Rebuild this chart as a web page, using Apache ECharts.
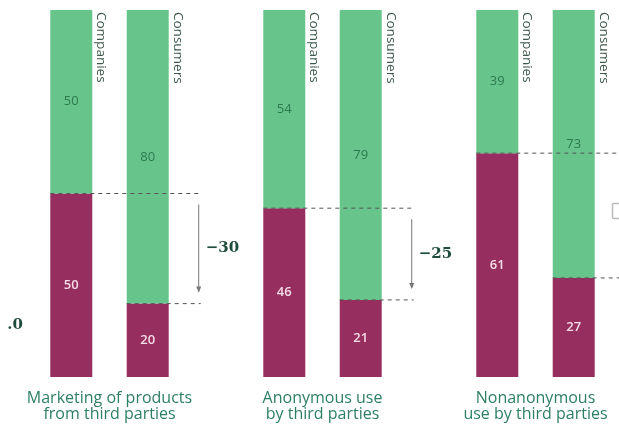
<!DOCTYPE html>
<html>
<head>
<meta charset="utf-8">
<script src="https://cdn.jsdelivr.net/npm/echarts@6/dist/echarts.min.js"></script>
<style>
  html, body { margin: 0; padding: 0; background: #ffffff; overflow: hidden; }
  #chart { width: 642px; height: 425px; }
</style>
</head>
<body>
<div id="chart"></div>
<script>
// Share of respondents (%) per use case; each bar sums to 100.
const categories = [
  'Marketing of products\nfrom third parties',
  'Anonymous use\nby third parties',
  'Nonanonymous\nuse by third parties'
];
const groupNames = ['Companies', 'Consumers'];
const companiesNo  = [50, 46, 61];   // lower (maroon) segment
const companiesYes = [50, 54, 39];   // upper (green) segment
const consumersNo  = [20, 21, 27];
const consumersYes = [80, 79, 73];

const GREEN = '#67c58b';
const MAROON = '#962e5f';
const BAR_W = 42;
const FONT = '"Open Sans", "Noto Sans", sans-serif';

const chart = echarts.init(document.getElementById('chart'), null, { renderer: 'canvas' });

function barSeries(name, stack, data, color, labelColor, weight) {
  return {
    name: name,
    type: 'bar',
    stack: stack,
    data: data,
    barWidth: BAR_W,
    barGap: '82%',
    itemStyle: { color: color },
    emphasis: { disabled: true },
    label: {
      show: true,
      position: 'inside',
      color: labelColor,
      fontFamily: FONT,
      fontSize: 13,
      fontWeight: weight
    }
  };
}

chart.setOption({
  animation: false,
  grid: { left: 3, right: 0, top: 10, bottom: 48 },
  xAxis: {
    type: 'category',
    data: categories,
    axisLine: { show: false },
    axisTick: { show: false },
    axisLabel: {
      interval: 0,
      hideOverlap: false,
      margin: 13,
      color: '#2d7f63',
      fontFamily: FONT,
      fontSize: 16,
      fontWeight: 500,
      lineHeight: 16.5
    }
  },
  yAxis: { type: 'value', min: 0, max: 100, show: false },
  series: [
    barSeries(groupNames[0], 'companies', companiesNo, MAROON, '#f6dce8', 600),
    barSeries(groupNames[0], 'companies', companiesYes, GREEN, '#2b7a4e', 400),
    barSeries(groupNames[1], 'consumers', consumersNo, MAROON, '#f6dce8', 600),
    barSeries(groupNames[1], 'consumers', consumersYes, GREEN, '#2b7a4e', 400)
  ]
});

// Annotations placed from the laid-out bars
function barRect(seriesIndex, i) {
  const lay = chart.getModel().getSeriesByIndex(seriesIndex).getData().getItemLayout(i);
  const y0 = Math.min(lay.y, lay.y + lay.height);
  const y1 = Math.max(lay.y, lay.y + lay.height);
  return { left: lay.x, right: lay.x + lay.width, top: y0, bottom: y1 };
}

const gridTop = chart.convertToPixel({ gridIndex: 0 }, [0, 100])[1];
const els = [];
const dash = { stroke: '#555', lineWidth: 1, lineDash: [4, 4] };

categories.forEach(function (c, i) {
  const co = barRect(0, i);   // companies lower segment
  const cn = barRect(2, i);   // consumers lower segment

  // vertical group names next to each bar
  [[co, groupNames[0]], [cn, groupNames[1]]].forEach(function (p) {
    els.push({
      type: 'text',
      x: p[0].right + 2,
      y: gridTop + 2,
      rotation: -Math.PI / 2,
      silent: true,
      style: {
        text: p[1],
        fill: '#3f5a4d',
        font: '13.5px ' + FONT,
        align: 'left',
        verticalAlign: 'bottom'
      }
    });
  });

  const xEnd = cn.right + 32;
  els.push({ type: 'line', silent: true, z: 10,
    shape: { x1: co.left, y1: co.top, x2: xEnd, y2: co.top }, style: dash });
  els.push({ type: 'line', silent: true, z: 10,
    shape: { x1: cn.left, y1: cn.top, x2: xEnd, y2: cn.top }, style: dash });

  // arrow showing the drop between the two shares
  const ax = cn.right + 30;
  const yA = co.top + 11;
  const yB = cn.top - 12;
  els.push({ type: 'line', silent: true,
    shape: { x1: ax, y1: yA, x2: ax, y2: yB },
    style: { stroke: '#777', lineWidth: 1 } });
  els.push({ type: 'polygon', silent: true,
    shape: { points: [[ax - 2.5, yB - 5], [ax + 2.5, yB - 5], [ax, yB + 1]] },
    style: { fill: '#777' } });

  const delta = consumersNo[i] - companiesNo[i];
  els.push({
    type: 'text',
    x: cn.right + 37,
    y: (co.top + cn.top) / 2,
    silent: true,
    style: {
      text: (delta < 0 ? '\u2212' : '+') + Math.abs(delta),
      fill: '#1f4d3b',
      font: 'bold 15px "DejaVu Serif", serif',
      align: 'left',
      verticalAlign: 'middle'
    }
  });
});

// fragments of neighbouring panels at the edges
els.push({ type: 'text', x: 23, y: 325, silent: true,
  style: { text: '.0', fill: '#1f4d3b', font: 'bold 15px "DejaVu Serif", serif',
           align: 'right', verticalAlign: 'middle' } });
els.push({ type: 'rect', silent: true,
  shape: { x: 612.5, y: 203.5, width: 10, height: 15, r: 1 },
  style: { fill: 'none', stroke: '#bbb', lineWidth: 1.5 } });

chart.setOption({ graphic: els });
</script>
</body>
</html>
